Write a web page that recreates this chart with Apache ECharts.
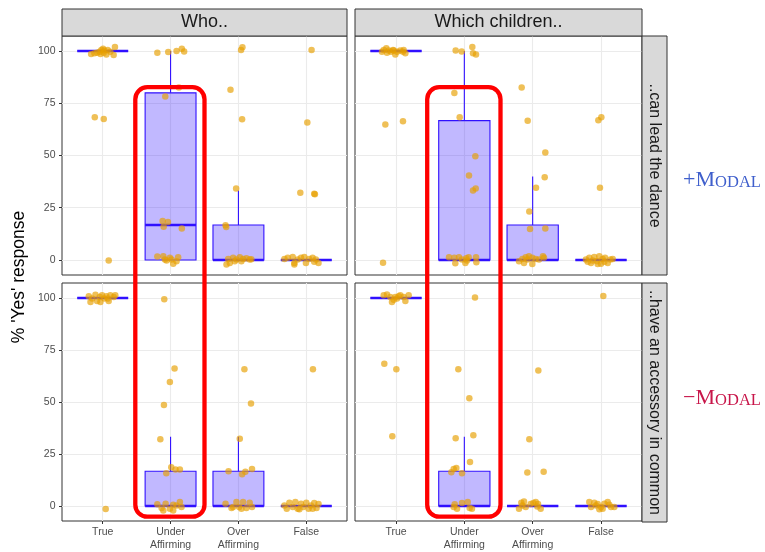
<!DOCTYPE html>
<html>
<head>
<meta charset="utf-8">
<script src="https://cdn.jsdelivr.net/npm/echarts@6/dist/echarts.min.js"></script>
<style>
  html, body { margin: 0; padding: 0; background: #fff; }
  #chart { width: 765px; height: 552px; }
</style>
</head>
<body>
<div id="chart"></div>
<script>
// ---------------- DATA ----------------
const categories = ['True', 'Under\nAffirming', 'Over\nAffirming', 'False'];
const yTicks = [0, 25, 50, 75, 100];
const colFacets = ['Who..', 'Which children..'];
const rowFacets = ['..can lead the dance', '..have an accessory in common'];
const rowGroups = ['+Modal', '\u2212Modal'];

// box stats per category: [lower whisker, Q1, median, Q3, upper whisker]
const boxWhoDance = [[100,100,100,100,100],[0,0,16.7,80,100],[0,0,0,16.7,33.3],[0,0,0,0,0]];
const boxWhichDance = [[100,100,100,100,100],[0,0,0,66.7,100],[0,0,0,16.7,40],[0,0,0,0,0]];
const boxWhoAccessory = [[100,100,100,100,100],[0,0,0,16.7,33.3],[0,0,0,16.7,33.3],[0,0,0,0,0]];
const boxWhichAccessory = [[100,100,100,100,100],[0,0,0,16.7,33.3],[0,0,0,0,0],[0,0,0,0,0]];

// jittered responses: [jittered category position, % yes]
const pointsWhoDance = [
  [0.829,98.6],[0.878,98.9],[0.917,99.2],[0.956,99.7],[0.980,100.5],[1.005,101.1],[1.024,100.2],[1.054,98.4],[1.073,100.5],[1.112,99.7],[1.161,98.1],[1.180,101.9],[0.966,98.6],[1.015,99.2],[0.883,68.3],[1.015,67.5],[1.088,-0.3],
  [1.805,99.2],[1.966,99.5],[2.088,100.0],[2.166,101.1],[2.200,99.8],[1.922,78.2],[2.122,82.6],[1.883,18.6],[1.961,18.2],[1.898,15.9],[2.166,15.1],[1.805,1.6],[1.893,1.8],[1.917,0.2],[1.990,1.0],[2.015,0.2],[2.039,-1.8],[2.112,1.3],[2.088,-0.6],[1.941,-0.2],
  [3.039,100.5],[3.059,101.8],[2.883,81.5],[3.054,67.4],[2.966,34.2],[2.810,16.6],[2.820,15.8],[2.824,-2.2],[2.873,-1.4],[2.922,1.0],[2.971,0.2],[3.020,1.3],[3.068,0.5],[3.117,0.8],[3.166,0.2],[2.849,0.5],[2.946,-0.6],[3.044,-0.6],[3.190,0.3],
  [4.078,100.5],[4.015,65.8],[3.912,32.2],[4.117,31.7],[4.127,31.5],[3.678,0.5],[3.727,1.0],[3.800,1.4],[3.824,-1.4],[3.873,0.2],[3.922,1.0],[3.971,1.4],[3.995,-1.4],[4.044,0.5],[4.093,1.0],[4.141,0.2],[4.180,-1.4],[3.824,-2.2],[4.117,-0.8]
];
const pointsWhichDance = [
  [0.795,99.7],[0.820,100.5],[0.859,101.3],[0.893,100.2],[0.927,99.7],[0.956,100.5],[0.990,98.4],[1.015,99.7],[1.063,100.2],[1.102,99.7],[1.137,98.9],[1.112,100.5],[0.868,99.2],[0.966,100.2],[0.844,64.8],[1.102,66.4],[0.810,-1.3],
  [1.873,100.3],[1.961,99.8],[2.117,101.9],[2.127,98.9],[2.171,98.4],[1.854,79.9],[1.932,68.3],[2.161,49.7],[2.068,40.4],[2.127,33.3],[2.166,34.2],[1.776,1.3],[1.854,1.0],[1.922,1.3],[2.029,0.8],[2.063,1.3],[2.171,1.3],[1.868,-1.6],[2.015,-1.4],[2.039,-0.2],[2.176,-1.1],[1.966,0.2],
  [2.839,82.6],[2.927,66.6],[3.185,51.4],[3.176,39.6],[3.049,34.6],[2.951,23.2],[2.961,14.8],[3.185,15.1],[2.800,-0.6],[2.849,0.5],[2.898,1.3],[2.946,1.8],[2.995,1.0],[3.044,0.5],[3.151,1.8],[2.873,-1.4],[2.995,-1.9],[3.093,0.2],[3.166,1.0],[2.922,0.2],
  [3.961,66.9],[4.005,68.3],[3.985,34.6],[3.780,0.2],[3.829,1.0],[3.854,-1.4],[3.902,1.4],[3.941,-0.6],[3.976,1.8],[4.000,-1.8],[4.024,0.5],[4.059,1.0],[4.098,-1.4],[4.137,0.2],[4.171,0.5],[3.878,-0.3],[3.951,-1.9],[4.049,-0.8],[3.805,-0.8]
];
const pointsWhoAccessory = [
  [0.795,100.8],[0.844,99.7],[0.893,101.6],[0.917,98.6],[0.956,100.5],[0.990,101.3],[1.024,99.7],[1.054,100.8],[1.088,98.6],[1.112,101.3],[1.161,100.5],[1.185,101.3],[0.820,98.1],[0.966,98.1],[1.073,99.7],[1.044,-1.4],
  [1.907,99.4],[2.059,66.1],[1.990,59.6],[1.902,48.5],[1.849,32.1],[2.010,18.6],[2.137,17.5],[2.073,17.5],[1.937,15.7],[1.805,0.8],[1.868,-1.0],[1.927,1.1],[1.990,-1.3],[2.039,0.6],[2.137,1.9],[2.161,-0.5],[1.893,-2.1],[2.039,-2.1],[2.088,0.3],
  [3.088,65.8],[3.185,49.3],[3.020,32.3],[2.854,16.7],[3.054,15.3],[3.102,16.5],[3.200,17.8],[2.810,1.1],[2.898,-1.0],[2.971,1.9],[3.010,-0.5],[3.068,1.9],[3.117,-1.0],[3.166,1.6],[3.200,-0.5],[2.922,-0.5],[3.044,-1.3],
  [4.098,65.8],[3.678,0.3],[3.712,-1.3],[3.751,1.6],[3.800,-0.5],[3.839,1.9],[3.873,-1.3],[3.922,1.1],[3.956,-0.5],[4.000,1.6],[4.034,-1.3],[4.068,0.3],[4.117,1.4],[4.151,-1.0],[4.180,1.0],[3.898,-1.6],[4.093,-1.3]
];
const pointsWhichAccessory = [
  [0.820,101.3],[0.868,101.7],[0.941,98.1],[0.990,100.5],[1.015,99.7],[1.063,101.3],[1.137,98.6],[1.185,101.3],[0.917,100.5],[1.039,100.8],[1.112,100.5],[0.966,99.2],[0.829,68.4],[1.005,65.7],[0.946,33.5],
  [2.156,100.2],[1.912,65.8],[2.073,51.8],[1.873,32.6],[2.132,34.0],[2.083,21.1],[1.844,17.8],[1.883,18.3],[1.810,16.2],[1.966,15.7],[1.859,0.8],[1.893,-1.3],[1.966,1.4],[2.049,1.9],[2.078,-1.0],[2.112,-1.3],[1.844,-0.5],
  [3.083,65.2],[2.951,32.1],[2.922,16.1],[3.161,16.5],[2.800,-1.3],[2.834,1.6],[2.873,2.2],[2.898,-0.5],[2.971,1.0],[3.010,1.4],[3.044,1.9],[3.068,-0.2],[3.117,-1.3],[2.849,0.3],[3.078,1.0],
  [4.034,101.0],[3.829,1.9],[3.902,1.6],[3.927,0.3],[3.976,-1.6],[4.000,-0.5],[4.049,1.1],[4.098,1.9],[4.146,-0.5],[4.195,-0.5],[3.854,-0.5],[3.951,1.0],[4.024,-1.3],[4.122,0.6]
];

// ---------------- LAYOUT / STYLE ----------------
const panels = [
  { box: boxWhoDance,       pts: pointsWhoDance,       left: 62,  top: 36,  width: 285, height: 239, showX: false, showY: true  },
  { box: boxWhichDance,     pts: pointsWhichDance,     left: 355, top: 36,  width: 287, height: 239, showX: false, showY: false },
  { box: boxWhoAccessory,   pts: pointsWhoAccessory,   left: 62,  top: 283, width: 285, height: 239, showX: true,  showY: true  },
  { box: boxWhichAccessory, pts: pointsWhichAccessory, left: 355, top: 283, width: 287, height: 239, showX: true,  showY: false }
];
const FONT = 'Liberation Sans, Arial, sans-serif';
const SERIF = 'Liberation Serif, DejaVu Serif, serif';
const xTickVals = categories.map((c, i) => i + 1);
const gridLine = { show: true, lineStyle: { color: '#ebebeb', width: 1.1 } };

const grids = [], xAxes = [], yAxes = [], series = [];
panels.forEach((p, i) => {
  grids.push({ left: p.left, top: p.top, width: p.width, height: p.height, show: true,
               borderColor: '#333333', borderWidth: 1, backgroundColor: '#ffffff' });
  xAxes.push({
    type: 'value', gridIndex: i, min: 0.4, max: 4.6, position: 'bottom',
    axisLine: { show: false, onZero: false },
    axisTick: { show: p.showX, customValues: xTickVals, length: 3, lineStyle: { color: '#333333' } },
    axisLabel: { show: p.showX, customValues: xTickVals, margin: 4, color: '#4d4d4d', fontSize: 10.5,
                 lineHeight: 13.5, fontFamily: FONT, formatter: v => categories[Math.round(v) - 1] },
    splitLine: gridLine
  });
  yAxes.push({
    type: 'value', gridIndex: i, min: -7.2, max: 107.2, position: 'left',
    axisLine: { show: false, onZero: false },
    axisTick: { show: p.showY, customValues: yTicks, length: 3, lineStyle: { color: '#333333' } },
    axisLabel: { show: p.showY, customValues: yTicks, margin: 6.5, color: '#4d4d4d', fontSize: 10.5, fontFamily: FONT },
    splitLine: gridLine
  });
  series.push({
    type: 'custom', xAxisIndex: i, yAxisIndex: i, z: 3, silent: true,
    encode: { x: 0, y: [1, 2, 3, 4, 5] },
    data: p.box.map((b, k) => [k + 1].concat(b)),
    renderItem: function (params, api) {
      const c = api.value(0), lo = api.value(1), q1 = api.value(2), med = api.value(3), q3 = api.value(4), hi = api.value(5);
      const hw = 0.375;
      const tl = api.coord([c - hw, q3]), br = api.coord([c + hw, q1]);
      const mL = api.coord([c - hw, med]), mR = api.coord([c + hw, med]);
      const pHi = api.coord([c, hi]), pQ3 = api.coord([c, q3]), pQ1 = api.coord([c, q1]), pLo = api.coord([c, lo]);
      const stroke = '#3010ff';
      const children = [];
      if (hi > q3) children.push({ type: 'line', shape: { x1: pHi[0], y1: pHi[1], x2: pQ3[0], y2: pQ3[1] }, style: { stroke: stroke, lineWidth: 1.1 } });
      if (lo < q1) children.push({ type: 'line', shape: { x1: pQ1[0], y1: pQ1[1], x2: pLo[0], y2: pLo[1] }, style: { stroke: stroke, lineWidth: 1.1 } });
      children.push({ type: 'rect', shape: { x: tl[0], y: tl[1], width: br[0] - tl[0], height: br[1] - tl[1] },
                      style: { fill: 'rgba(50,20,255,0.3)', stroke: stroke, lineWidth: 1.1 } });
      children.push({ type: 'line', shape: { x1: mL[0], y1: mL[1], x2: mR[0], y2: mR[1] }, style: { stroke: stroke, lineWidth: 2.4 } });
      return { type: 'group', children: children };
    }
  });
  series.push({
    type: 'scatter', xAxisIndex: i, yAxisIndex: i, z: 4,
    symbolSize: 6.5, data: p.pts,
    itemStyle: { color: '#E69F00', opacity: 0.66 },
    emphasis: { disabled: true }, silent: true
  });
});

const graphics = [];
// column strips
[[62, 285], [355, 287]].forEach((c, i) => {
  graphics.push({ type: 'rect', shape: { x: c[0], y: 9, width: c[1], height: 27 },
                  style: { fill: '#d9d9d9', stroke: '#333333', lineWidth: 1 }, z: 10 });
  graphics.push({ type: 'text', x: c[0] + c[1] / 2, y: 22.5, z: 11,
                  style: { text: colFacets[i], fill: '#1a1a1a', font: '18px ' + FONT, align: 'center', verticalAlign: 'middle' } });
});
// row strips
[[36, 239], [283, 239]].forEach((r, i) => {
  graphics.push({ type: 'rect', shape: { x: 642, y: r[0], width: 25, height: r[1] },
                  style: { fill: '#d9d9d9', stroke: '#333333', lineWidth: 1 }, z: 10 });
  graphics.push({ type: 'text', x: 654.5, y: r[0] + r[1] / 2, rotation: -Math.PI / 2, z: 11,
                  style: { text: rowFacets[i], fill: '#1a1a1a', font: '16px ' + FONT, align: 'center', verticalAlign: 'middle' } });
});
// y title
graphics.push({ type: 'text', x: 19, y: 277, rotation: Math.PI / 2, z: 11,
                style: { text: "% 'Yes' response", fill: '#000000', font: '17.5px ' + FONT, align: 'center', verticalAlign: 'middle' } });
// modal labels (small caps)
[[180, '#3f5fcc'], [398, '#c8164a']].forEach((m, i) => {
  const s = rowGroups[i];
  graphics.push({ type: 'text', x: 722, y: m[0], z: 11,
    style: {
      text: '{a|' + s.slice(0, 2) + '}{b|' + s.slice(2).toUpperCase() + '}',
      align: 'center', verticalAlign: 'middle', fill: m[1],
      rich: {
        a: { fontSize: 22, fontFamily: SERIF, fill: m[1], lineHeight: 22, verticalAlign: 'bottom' },
        b: { fontSize: 16.5, fontFamily: SERIF, fill: m[1], lineHeight: 18.2, verticalAlign: 'bottom' }
      }
    } });
});
// highlight rectangles
[[135.3, 69.2], [427.2, 73.3]].forEach(h => {
  graphics.push({ type: 'rect', z: 20, shape: { x: h[0], y: 87.2, width: h[1], height: 429.5, r: 12 },
                  style: { fill: 'none', stroke: '#ff0000', lineWidth: 4.3 } });
});

const chart = echarts.init(document.getElementById('chart'), null, { renderer: 'canvas' });
chart.setOption({
  backgroundColor: '#ffffff',
  animation: false,
  grid: grids, xAxis: xAxes, yAxis: yAxes, series: series,
  graphic: { elements: graphics }
});
</script>
</body>
</html>
